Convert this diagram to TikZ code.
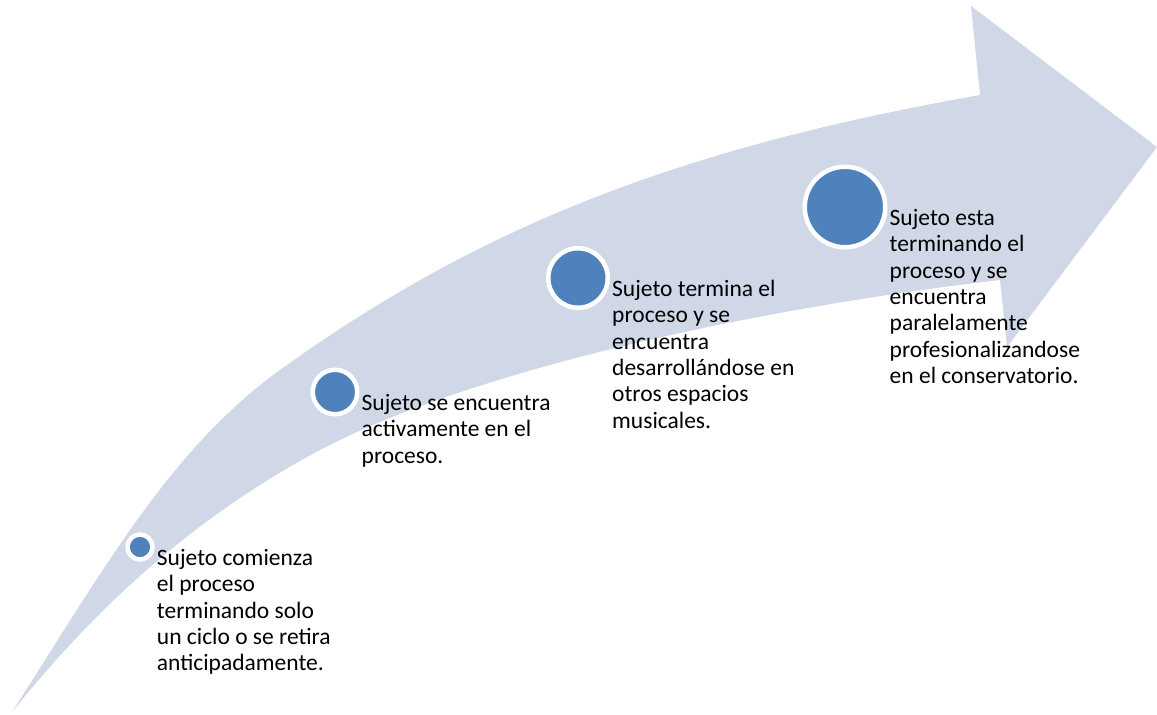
\documentclass[tikz,border=0pt]{standalone}
\usepackage{fontspec}
\setmainfont{Carlito}
\usepackage{tikz}
\usetikzlibrary{positioning}
\definecolor{arrowfill}{RGB}{208,216,232}
\definecolor{dotblue}{RGB}{79,129,189}
\tikzset{
    stage/.style={circle, fill=dotblue, draw=white, line width=4.5pt, inner sep=0pt},
    stagetext/.style={anchor=north west, align=left, inner sep=0pt, font=\fontsize{23.5}{26.3}\selectfont}
}

\begin{document}
\begin{tikzpicture}[x=1pt,y=-1pt]
        \useasboundingbox (0,0) rectangle (1157,715);
        % curved arrow
        \fill[arrowfill] (12,712) .. controls (102,572) and (170,449) .. (280,370)
            .. controls (480,226) and (680,148) .. (980,95)
            -- (971,6) -- (1157,147) -- (1007,347) -- (1000,280)
            .. controls (750,309) and (470,371) .. (320,450)
            .. controls (200,514) and (102,600) .. cycle;

        \node[stage, minimum size=25pt] (c1) at (140,547) {};
        \node[stage, minimum size=44.5pt] (c2) at (335,392) {};
        \node[stage, minimum size=59.5pt] (c3) at (578,278) {};
        \node[stage, minimum size=80.5pt] (c4) at (845,207) {};

        \node[stagetext] (t1) at ([xshift=2pt]c1.east) {\strut Sujeto comienza\\el proceso\\terminando solo\\un ciclo o se retira\\anticipadamente.};
        \node[stagetext] (t2) at ([xshift=2pt]c2.east) {\strut Sujeto se encuentra\\activamente en el\\proceso.};
        \node[stagetext] (t3) at ([xshift=2pt]c3.east) {\strut Sujeto termina el\\proceso y se\\encuentra\\desarrollándose en\\otros espacios\\musicales.};
        \node[stagetext] (t4) at ([xshift=2pt]c4.east) {\strut Sujeto esta\\terminando el\\proceso y se\\encuentra\\paralelamente\\profesionalizandose\\en el conservatorio.};
    \end{tikzpicture}
\end{document}
